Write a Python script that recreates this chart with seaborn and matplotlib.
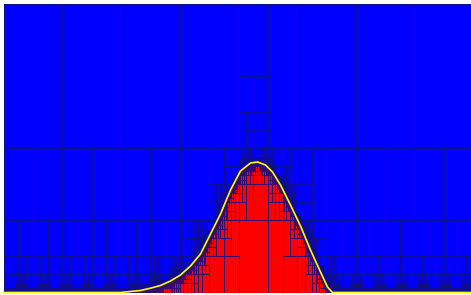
import numpy as np
import matplotlib
matplotlib.use("Agg")
import matplotlib.pyplot as plt
from matplotlib.collections import PolyCollection
import seaborn as sns

# curve, domain is 470 wide and 289 high, origin bottom left
curve_x = [0, 117, 127, 137, 147, 157, 167, 177, 187, 197, 207, 217, 227,
           237, 247, 254, 262, 269, 277, 287, 297, 307, 317, 324, 329, 470]
curve_y = [0, 0, 1, 2, 4.3, 7, 11.5, 17.5, 26.5, 38.5, 58.5, 78.5, 102.5,
           121.5, 129.5, 130.5, 127.5, 120.5, 107.5, 87.5, 66.5, 42.5, 20.5,
           5.5, 0, 0]

domain_w = 470.0
domain_h = 289.0
n_columns = 8
max_splits = 13


def build(x0, x1, y0, y1, depth, cells):
    # sample the curve over the cell's x range
    xs = np.linspace(x0, x1, 17)
    fy = np.interp(xs, curve_x, curve_y)
    margin = min(16.0, 0.8 * (y1 - y0))
    near = fy.max() >= y0 - margin and fy.min() <= y1 + margin
    if near and depth < max_splits:
        if depth % 2 == 0:
            ym = (y0 + y1) / 2
            build(x0, x1, y0, ym, depth + 1, cells)
            build(x0, x1, ym, y1, depth + 1, cells)
        else:
            xm = (x0 + x1) / 2
            build(x0, xm, y0, y1, depth + 1, cells)
            build(xm, x1, y0, y1, depth + 1, cells)
    else:
        frac = np.clip((fy - y0) / (y1 - y0), 0, 1).mean()
        cells.append((x0, x1, y0, y1, frac))


cells = []
col_w = domain_w / n_columns
for i in range(n_columns):
    build(i * col_w, (i + 1) * col_w, 0.0, domain_h, 0, cells)

polys = [[(c[0], c[2]), (c[1], c[2]), (c[1], c[3]), (c[0], c[3])] for c in cells]
faces = [(c[4], 0.0, 1.0 - c[4]) for c in cells]

sns.set_style("white")
fig = plt.figure(figsize=(4.71, 2.95), dpi=100)
ax = fig.add_axes([3.5 / 471, 2.5 / 295, 467.5 / 471, 289 / 295])

coll = PolyCollection(polys, facecolors=faces,
                      edgecolors=(0.08, 0.05, 0.5, 0.85), linewidths=0.5,
                      antialiaseds=False)
ax.add_collection(coll)

sns.lineplot(x=curve_x, y=curve_y, color="#ffff00", lw=1.2, ax=ax,
             clip_on=False, sort=False)

ax.set_xlim(0, 467.5)
ax.set_ylim(0, domain_h)
ax.set_axis_off()

fig.savefig("out.png", dpi=100)
